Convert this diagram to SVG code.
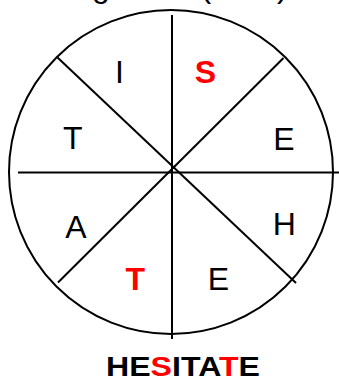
<svg xmlns="http://www.w3.org/2000/svg" width="339" height="379" viewBox="0 0 339 379">
  <style>
    .ln { stroke: #000; stroke-width: 2; fill: none; }
    .lt { font-family: "Liberation Sans", Arial, sans-serif; font-size: 32px; fill: #000; text-anchor: middle; }
    .red { fill: #ff0000; font-weight: bold; }
    .word { font-family: "Liberation Sans", Arial, sans-serif; font-size: 28px; font-weight: bold; fill: #000; }
  </style>
  <rect width="339" height="379" fill="#fff"/>
  <text id="title" x="44" y="-3" font-family="Liberation Sans, Arial, sans-serif" font-size="32" fill="#000">Diagram 1 (Clue)</text>
  <g id="wheel">
    <circle class="ln" cx="171" cy="172" r="162"/>
  </g>
  <g id="connectors">
    <line class="ln" x1="172" y1="15" x2="172" y2="339"/>
    <line class="ln" x1="18" y1="172.5" x2="339" y2="172.5"/>
    <line class="ln" x1="57.5" y1="57.5" x2="296" y2="283"/>
    <line class="ln" x1="283.5" y1="58" x2="58" y2="282.5"/>
  </g>
  <g id="seg-I"><text class="lt" x="119.5" y="82.7">I</text></g>
  <g id="seg-S"><text class="lt red" x="205.5" y="83.3">S</text></g>
  <g id="seg-T1"><text class="lt" x="72.8" y="149.3">T</text></g>
  <g id="seg-E1"><text class="lt" x="284" y="150">E</text></g>
  <g id="seg-A"><text class="lt" x="75.8" y="238.3">A</text></g>
  <g id="seg-H"><text class="lt" x="284.2" y="235">H</text></g>
  <g id="seg-T2"><text class="lt red" x="135.2" y="290">T</text></g>
  <g id="seg-E2"><text class="lt" x="218.5" y="290">E</text></g>
  <g id="answer">
    <text class="word" x="106" y="375.7" textLength="154" lengthAdjust="spacingAndGlyphs">HE<tspan fill="#ff0000">S</tspan>ITA<tspan fill="#ff0000">T</tspan>E</text>
  </g>
</svg>
